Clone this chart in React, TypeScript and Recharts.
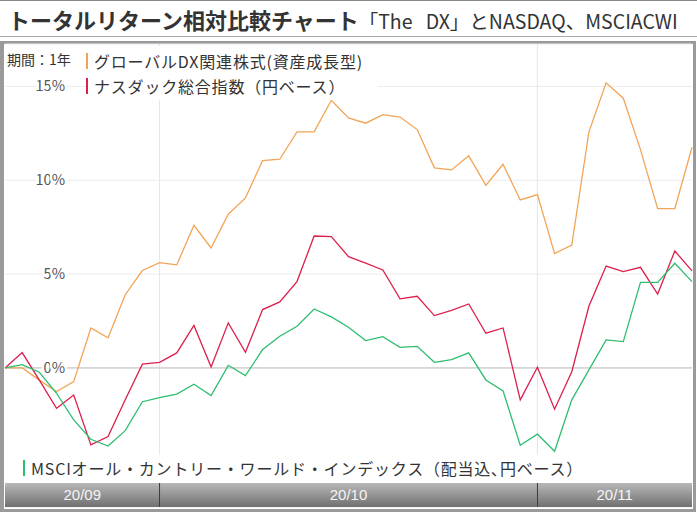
import React from 'react';
import { LineChart, Line, XAxis, YAxis, CartesianGrid, ReferenceLine, ReferenceArea } from 'recharts';

// 営業日ごとのトータルリターン(%)
const dxFund = [
  0, 0, -0.65, -1.26, -0.73, 2.13, 1.6, 3.9, 5.19, 5.61,
  5.49, 7.6, 6.39, 8.19, 9.06, 11.05, 11.12, 12.58, 12.58, 14.26,
  13.32, 13.04, 13.5, 13.37, 12.7, 10.66, 10.55, 11.3, 9.73, 10.85,
  8.95, 9.24, 6.09, 6.55, 12.58, 15.19, 14.37, 11.63, 8.49, 8.49,
  11.76,
];
const nasdaq = [
  0, 0.82, -0.65, -2.15, -1.44, -4.1, -3.66, -1.7, 0.2, 0.3,
  0.8, 2.26, 0.05, 2.4, 0.83, 3.11, 3.52, 4.6, 7.03, 7.0,
  5.93, 5.58, 5.22, 3.68, 3.82, 2.79, 3.07, 3.41, 1.85, 2.13,
  -1.7, 0.04, -2.2, -0.2, 3.3, 5.43, 5.13, 5.36, 3.94, 6.23,
  5.17,
];
const msci = [
  0, 0.18, -0.23, -1.35, -2.77, -3.8, -4.16, -3.34, -1.8, -1.58,
  -1.39, -0.87, -1.47, 0.14, -0.41, 0.98, 1.69, 2.22, 3.14, 2.72,
  2.17, 1.46, 1.67, 1.1, 1.15, 0.3, 0.44, 0.8, -0.64, -1.23,
  -4.12, -3.53, -4.44, -1.7, -0.1, 1.49, 1.4, 4.56, 4.56, 5.58,
  4.6,
];

// 月の区切り(データの添字)
const months = ['20/09', '20/10', '20/11'];
const monthStarts = [0, 9, 31];
const monthEnds = [9, 31, 40];

const yTicks = [0, 5, 10, 15];
const yMin = -7.41;
const yMax = 17.26;
const barTop = -6.13;

const seriesNames = [
  'グローバルDX関連株式(資産成長型)',
  'ナスダック総合指数（円ベース）',
  'MSCIオール・カントリー・ワールド・インデックス（配当込､円ベース）',
];
const colors = ['#f2a456', '#dc1f4b', '#2fbd70'];

const data = dxFund.map((v, i) => ({ i, dx: v, nasdaq: nasdaq[i], msci: msci[i] }));

const JP = '"Noto Sans CJK JP", "Noto Sans", sans-serif';

// 目盛ラベル(プロット内側、右寄せ)
const tickLabel = (t: number) => (props: any) => {
  const vb = props.viewBox || {};
  return (
    <text
      x={(vb.x || 0) + 60}
      y={vb.y}
      dy={5}
      textAnchor="end"
      fontSize={14.5}
      fontFamily={JP}
      fill="#555"
      stroke="#fff"
      strokeWidth={5}
      paintOrder="stroke"
    >
      {t}%
    </text>
  );
};

const LegendItem = ({ color, label }: { color: string; label: string }) => (
  <div style={{ display: 'flex', alignItems: 'center', height: 25 }}>
    <span style={{ display: 'inline-block', flexShrink: 0, width: 2, height: 16, background: color, marginRight: 6 }} />
    <span style={{ fontSize: 16, color: '#333', whiteSpace: 'nowrap', letterSpacing: 0.8 }}>{label}</span>
  </div>
);

export default function App() {
  return (
    <div style={{ position: 'absolute', left: 0, top: 0, width: 697, height: 513, background: '#fff', fontFamily: JP, overflow: 'hidden' }}>
      <div style={{ position: 'absolute', left: 0, top: 0, width: 697, height: 1, background: '#888' }} />
      <div style={{ position: 'absolute', left: 8, top: 5, whiteSpace: 'nowrap', color: '#333', lineHeight: '28px' }}>
        <span style={{ fontSize: 22, fontWeight: 700 }}>トータルリターン相対比較チャート</span>
        <span style={{ fontSize: 19.5 }}>「The{'\u00a0\u00a0\u00a0'}DX」とNASDAQ、MSCIACWI</span>
      </div>
      <div style={{ position: 'absolute', left: 0, top: 36, width: 697, height: 1, background: '#aaa' }} />

      <div
        style={{
          position: 'absolute',
          left: 0,
          top: 41,
          width: 696,
          height: 471,
          boxSizing: 'border-box',
          borderStyle: 'solid',
          borderColor: '#9a9a9a',
          borderWidth: '3px 3px 3px 4px',
        }}
      />

      <div style={{ position: 'absolute', left: 0, top: 0 }}>
        <LineChart width={697} height={513} data={data} margin={{ top: 44, right: 5, bottom: 6, left: 5 }}>
          <defs>
            <linearGradient id="monthBar" x1="0" y1="0" x2="0" y2="1">
              <stop offset="0%" stopColor="#b8b8b8" />
              <stop offset="100%" stopColor="#707070" />
            </linearGradient>
          </defs>
          <CartesianGrid vertical={false} stroke="#ececec" />
          <XAxis type="number" dataKey="i" domain={[0, 40]} hide />
          <YAxis width={0} domain={[yMin, yMax]} ticks={yTicks} allowDataOverflow hide />
          {monthStarts.slice(1).map((s) => (
            <ReferenceLine key={'v' + s} x={s} stroke="#e6e6e6" />
          ))}
          <ReferenceLine y={0} stroke="#c0c0c0" />
          {yTicks.map((t) => (
            <ReferenceLine key={'t' + t} y={t} strokeOpacity={0} label={tickLabel(t)} />
          ))}
          <Line type="linear" dataKey="dx" stroke={colors[0]} strokeWidth={1.3} dot={false} isAnimationActive={false} />
          <Line type="linear" dataKey="nasdaq" stroke={colors[1]} strokeWidth={1.3} dot={false} isAnimationActive={false} />
          <Line type="linear" dataKey="msci" stroke={colors[2]} strokeWidth={1.3} dot={false} isAnimationActive={false} />
          {months.map((m, k) => (
            <ReferenceArea
              key={m}
              x1={monthStarts[k]}
              x2={monthEnds[k]}
              y1={yMin}
              y2={barTop}
              fill="url(#monthBar)"
              fillOpacity={1}
              stroke="none"
              ifOverflow="visible"
              label={{ value: m, position: 'center', fill: '#f4f4f4', fontSize: 15, fontFamily: 'Liberation Sans, Arial, sans-serif' }}
            />
          ))}
          {monthStarts.slice(1).map((s) => (
            <ReferenceLine
              key={'s' + s}
              segment={[{ x: s, y: yMin }, { x: s, y: barTop }]}
              stroke="#333"
              ifOverflow="visible"
            />
          ))}
        </LineChart>
      </div>

      <div style={{ position: 'absolute', left: 7, top: 49, fontSize: 14, color: '#333', whiteSpace: 'nowrap' }}>期間：1年</div>
      <div style={{ position: 'absolute', left: 86, top: 46, width: 292, height: 54, background: '#fff', paddingTop: 2, boxSizing: 'border-box' }}>
        <LegendItem color={colors[0]} label={seriesNames[0]} />
        <LegendItem color={colors[1]} label={seriesNames[1]} />
      </div>
      <div style={{ position: 'absolute', left: 5, top: 455, width: 590, height: 28, background: '#fff', paddingLeft: 18, paddingTop: 0, boxSizing: 'border-box' }}>
        <LegendItem color={colors[2]} label={seriesNames[2]} />
      </div>
    </div>
  );
}
